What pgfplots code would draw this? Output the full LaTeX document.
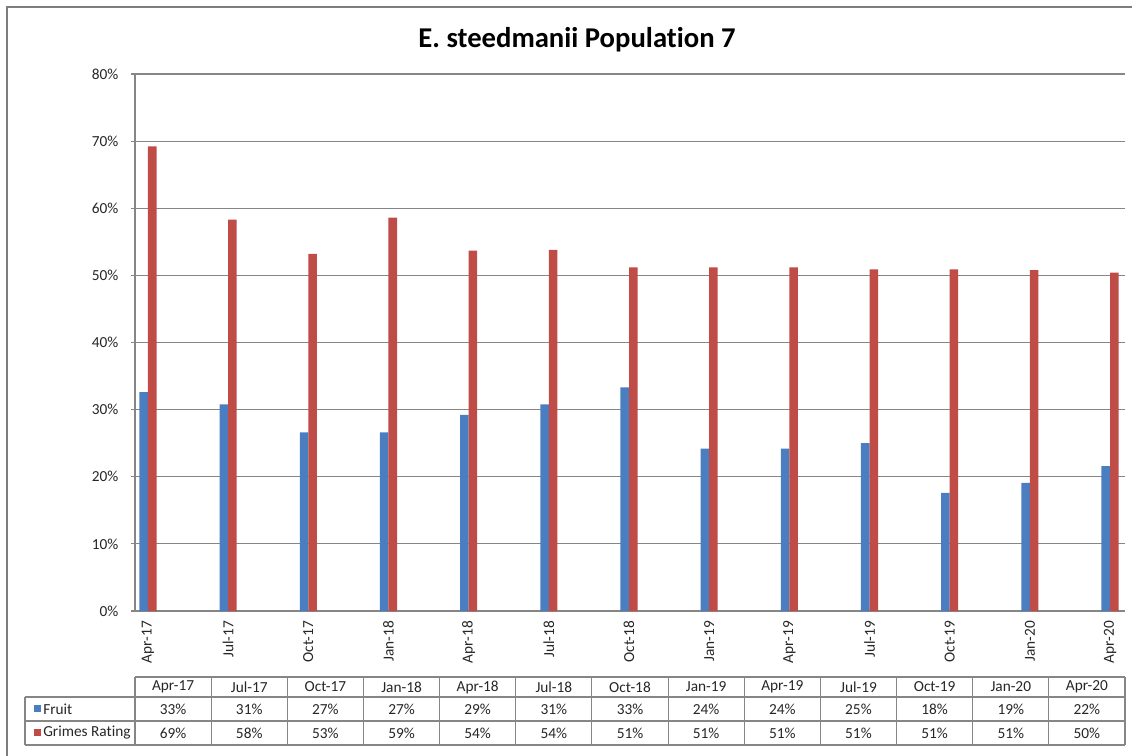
\documentclass[border=0pt]{standalone}
\usepackage{fontspec}
\setmainfont{Carlito}[Ligatures=NoCommon]
\usepackage{pgfplots}
\usepackage{pgfplotstable}
\pgfplotsset{compat=1.18}

\definecolor{fruitblue}{RGB}{74,126,192}
\definecolor{grimesred}{RGB}{192,76,72}
\definecolor{gridgray}{RGB}{134,134,134}
\definecolor{framegray}{RGB}{125,125,125}
\definecolor{txt}{RGB}{38,38,38}
\newcommand\cellfont{\fontsize{11.5pt}{13.5pt}\selectfont}

% quarterly survey results (percent)
\pgfplotstableread{
idx label  fruit grimes
0   Apr-17 32.6  69.2
1   Jul-17 30.8  58.3
2   Oct-17 26.6  53.2
3   Jan-18 26.6  58.6
4   Apr-18 29.2  53.7
5   Jul-18 30.8  53.8
6   Oct-18 33.3  51.2
7   Jan-19 24.2  51.2
8   Apr-19 24.2  51.2
9   Jul-19 25.0  50.9
10  Oct-19 17.6  50.9
11  Jan-20 19.1  50.8
12  Apr-20 21.6  50.4
}\popdata

\begin{document}
\begin{tikzpicture}
\useasboundingbox (0,0) rectangle (849pt,-567pt);

% chart frame
\draw[framegray, line width=1.1pt] (5.25pt,-600pt) -- (5.25pt,-5.25pt) -- (900pt,-5.25pt);

\begin{axis}[
  at={(101.25pt,-458.25pt)}, anchor=south west,
  scale only axis, width=742.5pt, height=402.75pt,
  xmin=-0.162, xmax=12.187, ymin=0, ymax=80,
  ybar=0pt, bar width=6.4pt,
  axis x line=bottom, axis y line=left,
  axis line style={draw=gridgray, line width=0.9pt, -},
  xtick=data,
  xticklabels from table={\popdata}{label},
  xtick style={draw=none},
  xticklabel style={rotate=90, anchor=east, font=\cellfont, text=txt, xshift=-1pt},
  ytick={0,10,...,80},
  yticklabels={0\%,10\%,20\%,30\%,40\%,50\%,60\%,70\%,80\%},
  yticklabel style={font=\cellfont, text=txt, xshift=-6pt},
  tick align=outside, major tick length=3pt,
  ytick style={draw=gridgray, line width=0.9pt},
  ymajorgrids, major grid style={draw=gridgray, line width=0.9pt},
  clip=false,
]
\addplot[draw=none, fill=fruitblue] table[x=idx, y=fruit] {\popdata};
\addplot[draw=none, fill=grimesred] table[x=idx, y=grimes] {\popdata};
\end{axis}

\begin{scope}[x=0.75pt, y=-0.75pt]
  % title
  \node[font=\fontsize{21.5pt}{25pt}\selectfont\bfseries, text=black] at (577,40) {E. steedmanii Population 7};

  % data table grid
  \draw[gridgray, line width=0.8pt] (135,677) -- (1125,677);
  \draw[gridgray, line width=0.8pt] (25,697) -- (1125,697);
  \draw[gridgray, line width=0.8pt] (25,721) -- (1125,721);
  \draw[gridgray, line width=0.8pt] (25,745) -- (1125,745);
  \draw[gridgray, line width=0.8pt] (25,697) -- (25,745);
  \foreach \k in {0,...,13} {
    \draw[gridgray, line width=0.8pt] ({135+76.154*\k},677) -- ({135+76.154*\k},745);
  }

  % legend keys and series names
  \fill[fruitblue] (34,705) rectangle (41,712);
  \fill[grimesred] (34,729) rectangle (41,736);
  \node[anchor=west, font=\cellfont, text=txt, inner sep=0pt] at (43,709) {Fruit};
  \node[anchor=west, font=\cellfont, text=txt, inner sep=0pt] at (43,733) {Grimes Rating};

  % table cells
  \foreach \i in {0,...,12} {
    \pgfplotstablegetelem{\i}{label}\of\popdata
    \node[font=\cellfont, text=txt] at ({135+76.154*(\i+0.5)},687) {\pgfplotsretval};
    \pgfplotstablegetelem{\i}{fruit}\of\popdata
    \node[font=\cellfont, text=txt] at ({135+76.154*(\i+0.5)},709)
      {\pgfmathprintnumber[fixed, precision=0, assume math mode=true]{\pgfplotsretval}\%};
    \pgfplotstablegetelem{\i}{grimes}\of\popdata
    \node[font=\cellfont, text=txt] at ({135+76.154*(\i+0.5)},733)
      {\pgfmathprintnumber[fixed, precision=0, assume math mode=true]{\pgfplotsretval}\%};
  }
\end{scope}
\end{tikzpicture}
\end{document}
